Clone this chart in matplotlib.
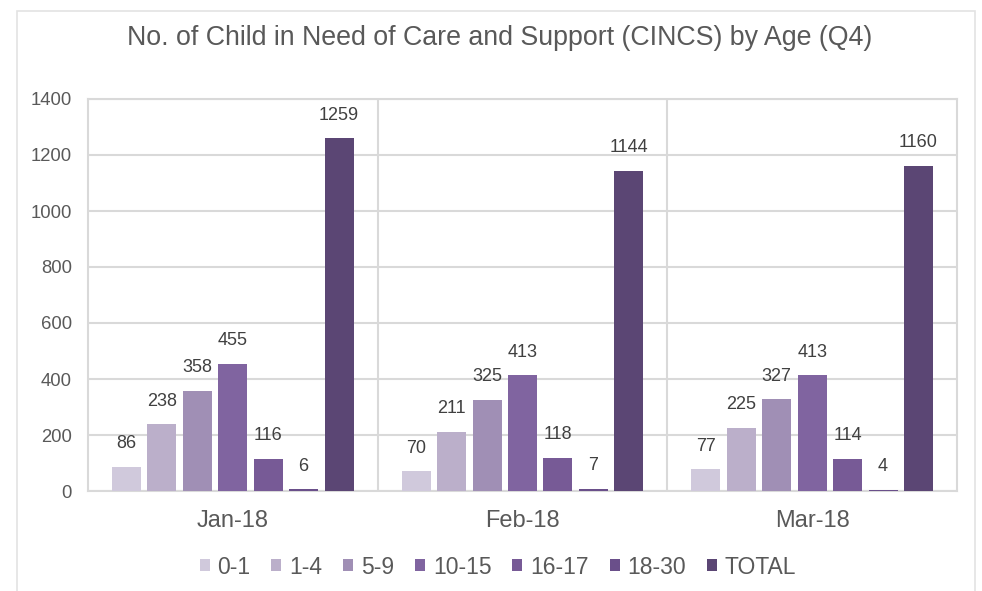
import matplotlib
matplotlib.use("Agg")
import matplotlib.pyplot as plt
from matplotlib.patches import Rectangle, Patch
import numpy as np

plt.rcParams['font.family'] = ['Liberation Sans', 'DejaVu Sans']

months = ["Jan-18", "Feb-18", "Mar-18"]
series_names = ["0-1", "1-4", "5-9", "10-15", "16-17", "18-30", "TOTAL"]
values = {
    "0-1":   [86, 70, 77],
    "1-4":   [238, 211, 225],
    "5-9":   [358, 325, 327],
    "10-15": [455, 413, 413],
    "16-17": [116, 118, 114],
    "18-30": [6, 7, 4],
    "TOTAL": [1259, 1144, 1160],
}
colors = ["#d0c9dc", "#bbafca", "#a08fb5", "#8064a0", "#775a96", "#6a4f8a", "#5b4674"]
yticks = [0, 200, 400, 600, 800, 1000, 1200, 1400]

W, H = 982, 591
fig = plt.figure(figsize=(W / 100, H / 100), dpi=100)
fig.patch.set_facecolor("white")

# outer chart border
fig.add_artist(Rectangle((17 / W, -0.01), (975 - 17) / W, 1 - 11 / H + 0.01,
                         transform=fig.transFigure, fill=False,
                         edgecolor="#e3e3e3", linewidth=1.2))

ax = fig.add_axes([88 / W, 1 - 491 / H, (957 - 88) / W, (491 - 99) / H])
ax.set_xlim(0, 3)
ax.set_ylim(0, 1400)

grid_c = "#d9d9d9"
for s in ax.spines.values():
    s.set_color(grid_c)
    s.set_linewidth(1.5)
ax.set_yticks(yticks)
ax.yaxis.grid(True, color=grid_c, linewidth=1.5)
for xv in [1, 2]:
    ax.axvline(xv, color=grid_c, linewidth=1.5, zorder=1)
ax.set_axisbelow(True)

x = np.arange(len(months)) + 0.5
bw = 0.1
step = 0.1223
n = len(series_names)
for i, (name, c) in enumerate(zip(series_names, colors)):
    pos = x + (i - (n - 1) / 2) * step
    vals = values[name]
    ax.bar(pos, vals, width=bw, color=c, zorder=3, label=name)
    for px, v in zip(pos, vals):
        ax.annotate(str(v), (px, v), xytext=(0, 13.5), textcoords="offset points",
                    ha="center", va="baseline", fontsize=13, color="#404040")

ax.set_xticks(x)
ax.set_xticklabels(months, fontsize=17, color="#595959")
ax.tick_params(axis="x", length=0, pad=14)
ax.tick_params(axis="y", length=0, pad=11.5, labelsize=13.3, labelcolor="#595959")

fig.text(0.509, 1 - 38 / H, "No. of Child in Need of Care and Support (CINCS) by Age (Q4)",
         ha="center", va="center", fontsize=19.3, color="#595959")

handles = [Patch(facecolor=c, edgecolor="none") for c in colors]
fig.legend(handles, series_names, loc="center", bbox_to_anchor=(498 / W, 1 - 567 / H),
           ncol=7, frameon=False, fontsize=16.5, handlelength=0.44, handleheight=0.44,
           handletextpad=0.35, columnspacing=0.9, labelcolor="#595959")

fig.savefig("out.png", dpi=100, facecolor="white")
